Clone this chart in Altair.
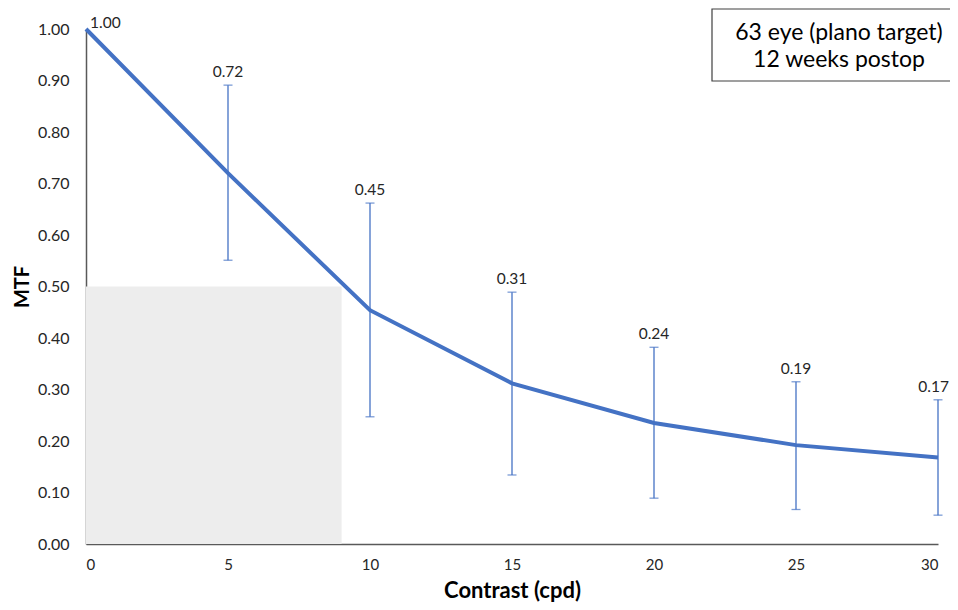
import altair as alt
import pandas as pd

# Data
contrast = [0, 5, 10, 15, 20, 25, 30]
mtf = [1.00, 0.72, 0.454, 0.312, 0.235, 0.192, 0.168]
mtf_labels = ["1.00", "0.72", "0.45", "0.31", "0.24", "0.19", "0.17"]
err_lower = [0.551, 0.247, 0.134, 0.089, 0.067, 0.056]
err_upper = [0.891, 0.662, 0.489, 0.382, 0.315, 0.280]
err_x = [5, 10, 15, 20, 25, 30]
shade_x = [0, 9]
shade_y = [0, 0.5]
legend_lines = ["63 eye (plano target)", "12 weeks postop"]

FONT = "Lato"
BLUE = "#4472C4"

line_df = pd.DataFrame({"x": contrast, "mtf": mtf, "label": mtf_labels})
err_df = pd.DataFrame({"x": err_x, "lo": err_lower, "hi": err_upper,
                       "label": mtf_labels[1:]})
shade_df = pd.DataFrame({"x": [shade_x[0]], "x2": [shade_x[1]],
                         "y": [shade_y[0]], "y2": [shade_y[1]]})
first_df = line_df.iloc[[0]]
mid_err = err_df.iloc[:-1]
last_err = err_df.iloc[[-1]]

xscale = alt.Scale(domain=[0, 30], nice=False)
yscale = alt.Scale(domain=[0, 1], nice=False)

xaxis = alt.Axis(values=[0, 5, 10, 15, 20, 25, 30], ticks=False, grid=False,
                 labelFontSize=15, labelColor="#262626", labelFont=FONT,
                 labelPadding=13, domainColor="#595959", domainWidth=1.5,
                 title="Contrast (cpd)", titleFont=FONT, titleFontSize=22,
                 titleFontWeight="bold", titleColor="#000000", titlePadding=8)
yaxis = alt.Axis(values=[0, 0.1, 0.2, 0.3, 0.4, 0.5, 0.6, 0.7, 0.8, 0.9, 1.0],
                 format=".2f", ticks=False, grid=False,
                 labelFontSize=16, labelColor="#262626", labelFont=FONT,
                 labelPadding=17, domainColor="#595959", domainWidth=1.5,
                 title="MTF", titleFont=FONT, titleFontSize=20,
                 titleFontWeight="bold", titleColor="#000000", titlePadding=5)

shade = alt.Chart(shade_df).mark_rect(color="#EDEDED").encode(
    x=alt.X("x:Q", scale=xscale, axis=xaxis),
    x2="x2:Q",
    y=alt.Y("y:Q", scale=yscale, axis=yaxis),
    y2="y2:Q",
)

rules = alt.Chart(err_df).mark_rule(color=BLUE, strokeWidth=1.3).encode(
    x=alt.X("x:Q", scale=xscale), y=alt.Y("lo:Q", scale=yscale), y2="hi:Q")
cap_hi = alt.Chart(err_df).mark_tick(color=BLUE, orient="horizontal", size=9,
                                     thickness=1.3).encode(
    x=alt.X("x:Q", scale=xscale), y=alt.Y("hi:Q", scale=yscale))
cap_lo = alt.Chart(err_df).mark_tick(color=BLUE, orient="horizontal", size=9,
                                     thickness=1.3).encode(
    x=alt.X("x:Q", scale=xscale), y=alt.Y("lo:Q", scale=yscale))

line = alt.Chart(line_df).mark_line(color=BLUE, strokeWidth=4).encode(
    x=alt.X("x:Q", scale=xscale), y=alt.Y("mtf:Q", scale=yscale))

labels = alt.Chart(mid_err).mark_text(font=FONT, fontSize=15.5, color="#262626",
                                      baseline="bottom", dy=-5).encode(
    x=alt.X("x:Q", scale=xscale), y=alt.Y("hi:Q", scale=yscale), text="label:N")
last_label = alt.Chart(last_err).mark_text(font=FONT, fontSize=15.5, color="#262626",
                                           align="right", baseline="bottom",
                                           dx=11, dy=-5).encode(
    x=alt.X("x:Q", scale=xscale), y=alt.Y("hi:Q", scale=yscale), text="label:N")
first_label = alt.Chart(first_df).mark_text(font=FONT, fontSize=15.5, color="#262626",
                                            align="left", baseline="bottom",
                                            dx=4, dy=2).encode(
    x=alt.X("x:Q", scale=xscale), y=alt.Y("mtf:Q", scale=yscale), text="label:N")

box = alt.Chart(shade_df).mark_rect(fill="white", stroke="#404040",
                                    strokeWidth=1.2).encode(
    x=alt.value(626), x2=alt.value(900), y=alt.value(-20), y2=alt.value(52))
legend_df = pd.DataFrame({"t": legend_lines, "yy": [4, 31]})
legend_text = alt.Chart(legend_df).mark_text(font=FONT, fontSize=23,
                                             color="#000000", align="center",
                                             baseline="middle").encode(
    x=alt.value(753), y=alt.Y("yy:Q", scale=None),
    text="t:N")

chart = alt.layer(shade, line, rules, cap_hi, cap_lo, labels, last_label,
                  first_label, box, legend_text).properties(
    width=852, height=515,
    background="white",
    autosize=alt.AutoSizeParams(type="none"),
    padding={"left": 78, "top": 21, "right": 12, "bottom": 58},
).configure_view(strokeWidth=0, stroke="transparent")

chart.save("out.html", embed_options={"renderer": "svg", "actions": False})
